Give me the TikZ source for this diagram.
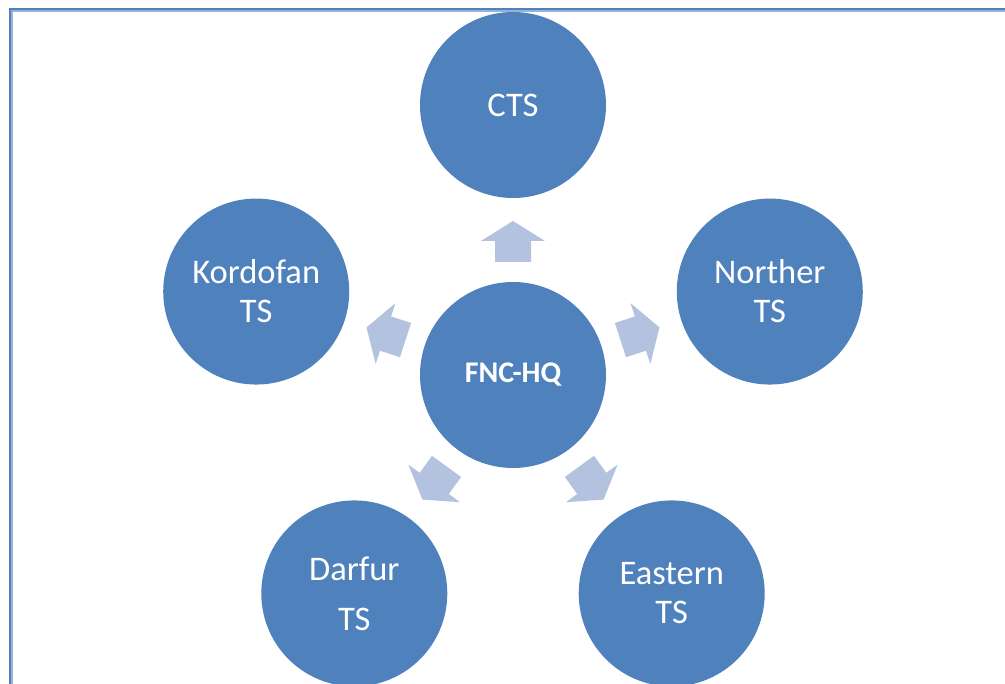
\documentclass[tikz,border=0pt]{standalone}
\usepackage{fontspec}
\setmainfont{Carlito}
\usetikzlibrary{calc}
\definecolor{hubblue}{HTML}{4F81BD}
\definecolor{arrowfill}{HTML}{B3C2DE}
\definecolor{framelight}{HTML}{95B3D7}
\tikzset{
  unit/.style={draw=none, fill=hubblue, circle, minimum size=186pt, inner sep=0pt,
    text=white, align=center, font=\fontsize{34.5}{39}\selectfont},
  hub/.style={unit, font=\fontsize{30}{36}\selectfont\bfseries},
  blockarrow/.pic={
    \fill[arrowfill] (113,-18) -- (134,-18) -- (134,-32) -- (154,0)
      -- (134,32) -- (134,18) -- (113,18) -- cycle;
  }
}
\begin{document}
\begin{tikzpicture}[x=1pt, y=1pt]
\useasboundingbox (0,0) rectangle (1005,684);
\begin{scope}
  \clip (0,0) rectangle (1005,684);
  % outer frame
  \draw[framelight, line width=1.2pt] (12,-10) -- (12,673) -- (1020,673);
  \draw[hubblue, line width=2.6pt] (10,-10) -- (10,675) -- (1020,675);
\end{scope}

\node[hub] (hq) at (513,309) {FNC-HQ};
\node[unit] (cts) at ($(hq)+(90:270)$) {CTS};
\node[unit] (nor) at ($(hq)+(18:270)$) {Norther\\TS};
\node[unit] (eas) at ($(hq)+(-54:270)$) {Eastern\\TS};
\node[unit] (dar) at ($(hq)+(-126:270)$) {Darfur\\[11pt]TS};
\node[unit] (kor) at ($(hq)+(162:270)$) {Kordofan\\TS};

\foreach \a in {90,18,-54,-126,162}
  \pic[rotate=\a] at (hq.center) {blockarrow};
\end{tikzpicture}
\end{document}
